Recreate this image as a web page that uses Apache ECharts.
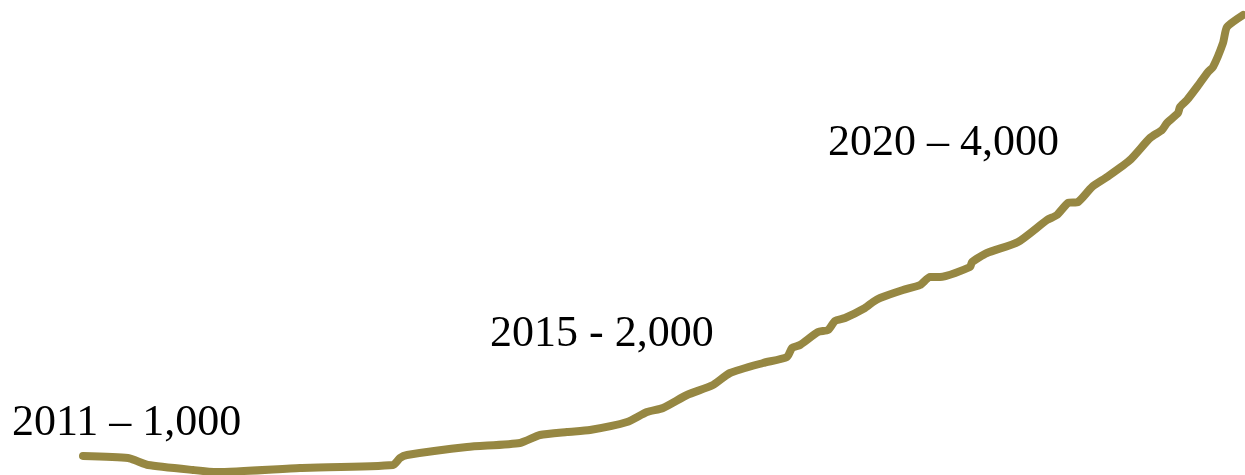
<!DOCTYPE html>
<html>
<head>
<meta charset="utf-8">
<style>
  html, body { margin: 0; padding: 0; background: #fff; }
  #chart { width: 1245px; height: 475px; }
</style>
<script src="https://cdn.jsdelivr.net/npm/echarts@6/dist/echarts.min.js"></script>
</head>
<body>
<div id="chart"></div>
<script>
// traced path of the growth curve (x across, y up from the bottom)
const curveX = [83, 128, 137, 148, 193, 217, 300, 393, 400, 407, 467, 520, 540, 567, 590, 627, 647, 663, 687, 713, 730, 763, 787, 792, 800, 818, 828, 835, 845, 865, 873, 880, 903, 920, 930, 940, 970, 972, 987, 1018, 1047, 1057, 1068, 1078, 1092, 1107, 1130, 1150, 1162, 1167, 1178, 1180, 1187, 1197, 1208, 1213, 1223, 1227, 1243];
const curveY = [19, 17, 14, 10, 5, 3, 7, 10, 17, 20, 28, 32, 40, 43, 45, 53, 63, 67, 80, 90, 102, 112, 118, 127, 130, 143, 145, 154, 157, 167, 173, 177, 185, 190, 198, 198, 208, 213, 222, 233, 255, 260, 272, 273, 288, 298, 315, 337, 345, 352, 362, 368, 375, 388, 403, 408, 432, 448, 460];

const labelTexts = ["2011 – 1,000", "2015 - 2,000", "2020 – 4,000"];

const chart = echarts.init(document.getElementById("chart"));

const points = curveX.map((x, i) => [x, curveY[i]]);

chart.setOption({
  animation: false,
  grid: { left: 0, right: 0, top: 0, bottom: 0 },
  xAxis: { type: "value", min: 0, max: 1245, show: false },
  yAxis: { type: "value", min: 0, max: 475, show: false },
  series: [
    {
      type: "line",
      data: points,
      symbol: "none",
      smooth: 0.2,
      lineStyle: { color: "#968742", width: 8, cap: "round", join: "round" },
    },
  ],
  graphic: [
    { type: "text", left: 12, top: 401, style: { text: labelTexts[0], font: "44px 'Liberation Serif'", fill: "#000" } },
    { type: "text", left: 490, top: 312, style: { text: labelTexts[1], font: "44px 'Liberation Serif'", fill: "#000" } },
    { type: "text", left: 828, top: 121, style: { text: labelTexts[2], font: "44px 'Liberation Serif'", fill: "#000" } },
  ],
});
</script>
</body>
</html>
